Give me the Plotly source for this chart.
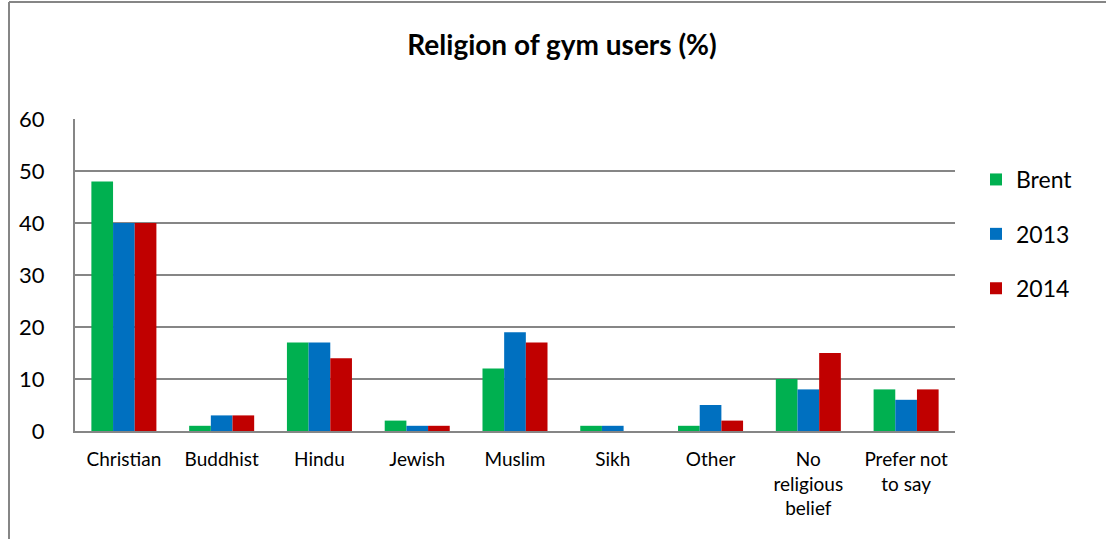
import plotly.graph_objects as go

categories = ["Christian", "Buddhist", "Hindu", "Jewish", "Muslim", "Sikh", "Other",
              "No<br>religious<br>belief", "Prefer not<br>to say"]
brent = [48, 1, 17, 2, 12, 1, 1, 10, 8]
y2013 = [40, 3, 17, 1, 19, 1, 5, 8, 6]
y2014 = [40, 3, 14, 1, 17, 0, 2, 15, 8]
series_names = ["Brent", "2013", "2014"]
colors = ["#00B050", "#0070C0", "#C00000"]

W, H = 1106, 539
L, R, T, B = 75, 955, 119, 431

fig = go.Figure()
for i, (name, vals) in enumerate(zip(series_names, [brent, y2013, y2014])):
    fig.add_trace(go.Bar(
        x=categories, y=vals, name=name, legendgroup=name,
        marker=dict(color=colors[i], line=dict(width=0)),
    ))

pw, ph = R - L, B - T
def px_x(x):
    return (x - L) / pw
def px_y(y):
    return (B - y) / ph

fig.update_layout(
    width=W, height=H,
    margin=dict(l=L, r=W - R, t=T, b=H - B),
    paper_bgcolor="white", plot_bgcolor="white",
    font=dict(family="Lato, 'Open Sans', sans-serif", color="#000000"),
    barmode="group", bargap=0.335, bargroupgap=0,
    title=dict(text="<b>Religion of gym users (%)</b>", x=(562 / W), xanchor="center",
               y=1 - 45 / H, yanchor="middle", font=dict(size=28, color="#000000")),
    legend=dict(x=px_x(976), xanchor="left", y=px_y(158), yanchor="top",
                font=dict(size=23), tracegroupgap=21.5, traceorder="grouped",
                itemwidth=30, bgcolor="rgba(0,0,0,0)"),
    xaxis=dict(showline=True, linecolor="#868686", linewidth=2, ticks="",
               tickfont=dict(size=19), showgrid=False, ticklabelstandoff=10),
    yaxis=dict(range=[0, 60], dtick=10, showline=True, linecolor="#868686", linewidth=2,
               gridcolor="#868686", gridwidth=1.5, tickfont=dict(size=22),
               ticks="", ticklabelstandoff=24, zeroline=False),
    shapes=[
        dict(type="line", xref="paper", yref="paper", x0=px_x(9), x1=px_x(9),
             y0=px_y(2), y1=px_y(560), line=dict(color="#868686", width=2)),
        dict(type="line", xref="paper", yref="paper", x0=px_x(9), x1=px_x(1110),
             y0=px_y(2), y1=px_y(2), line=dict(color="#868686", width=2)),
    ],
)

fig.write_html("out.html")
